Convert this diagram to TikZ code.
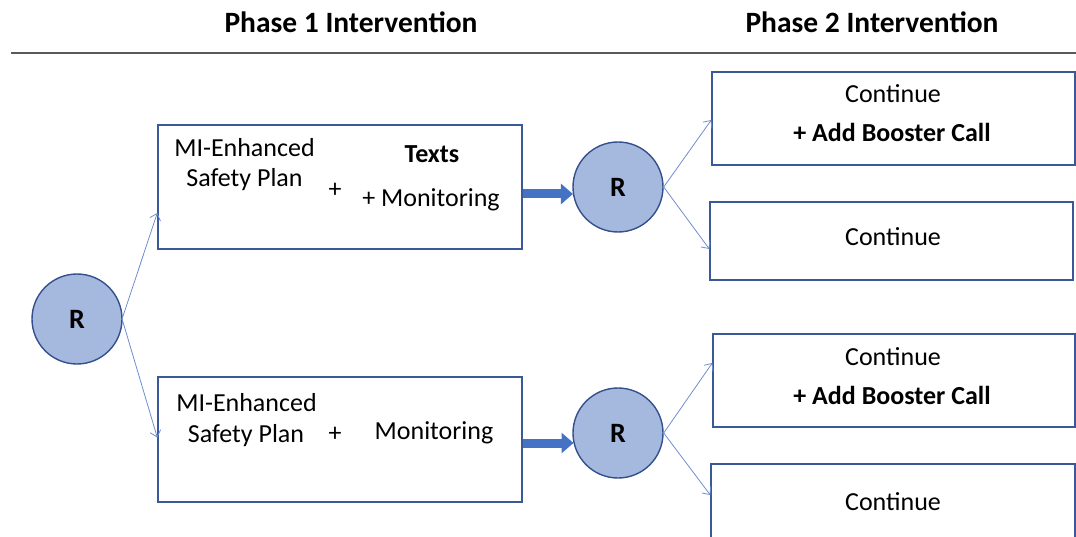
\documentclass[tikz,border=0pt]{standalone}
\usepackage{fontspec}
\setmainfont{Carlito}
\usetikzlibrary{arrows.meta}
\definecolor{boxline}{RGB}{59,89,152}
\definecolor{circfill}{RGB}{165,184,222}
\definecolor{circline}{RGB}{52,80,140}
\definecolor{thinarrow}{RGB}{110,142,207}
\definecolor{thickarrow}{RGB}{68,114,196}
\definecolor{rule}{RGB}{90,90,90}
\newcommand{\rfont}{\fontsize{28}{32}\selectfont\bfseries}
\tikzset{
  rnode/.style={circle, draw=circline, fill=circfill, line width=1.4pt, minimum size=90pt, inner sep=0pt},
  boxnode/.style={rectangle, draw=boxline, line width=1.4pt, inner sep=0pt},
  txt/.style={anchor=base, inner sep=0pt, font=\fontsize{26}{31}\selectfont},
  btxt/.style={anchor=base, inner sep=0pt, font=\fontsize{26}{31}\selectfont\bfseries},
  head/.style={anchor=base, inner sep=0pt, font=\fontsize{29.5}{34}\selectfont\bfseries},
  thinarr/.style={draw=thinarrow, line width=0.8pt, -{Straight Barb[length=6pt,width=11pt]}},
  thickarr/.style={draw=thickarrow, line width=9pt, -{Triangle[length=12pt,width=20pt]}},
}
\begin{document}
\begin{tikzpicture}[x=1pt,y=-1pt]
\clip (0,0) rectangle (1076,537);
% headings
\node[head] (h1) at (351,33) {Phase 1 Intervention};
\node[head] (h2) at (872,33) {Phase 2 Intervention};
\coordinate (rl) at (11,53);
\coordinate (rr) at (1076,53);
\draw[rule, line width=1.3pt] (rl) -- (rr);
% circles
\node[rnode] (R0) at (77,319) {\rfont R};
\node[rnode] (R1) at (618,187) {\rfont R};
\node[rnode] (R2) at (618,433) {\rfont R};
% phase 1 boxes
\node[boxnode, minimum width=364pt, minimum height=124pt] (top1) at (340,187) {};
\node[boxnode, minimum width=364pt, minimum height=125pt] (bot1) at (340,439.5) {};
% phase 2 boxes
\node[boxnode, minimum width=363pt, minimum height=93pt] (A) at (893.5,118.5) {};
\node[boxnode, minimum width=363pt, minimum height=78pt] (B) at (891.5,241) {};
\node[boxnode, minimum width=362pt, minimum height=93pt] (C) at (894,380.5) {};
\node[boxnode, minimum width=364pt, minimum height=100pt] (D) at (893,514) {};
% top box text
\node[txt] (t1a) at (244.5,157) {MI-Enhanced};
\node[txt] (t1b) at (244.5,187) {Safety Plan};
\node[inner sep=0pt, font=\fontsize{26}{31}\selectfont] (t1p) at (335,190) {+};
\node[btxt] (t1c) at (432,163) {Texts};
\node[txt] (t1d) at (431,207) {+ Monitoring};
% bottom box text
\node[txt] (b1a) at (246.5,411) {MI-Enhanced};
\node[txt] (b1b) at (246,442) {Safety Plan};
\node[inner sep=0pt, font=\fontsize{26}{31}\selectfont] (b1p) at (335,434) {+};
\node[txt] (b1c) at (434,439) {Monitoring};
% right box text
\node[txt] (Aa) at (893,103) {Continue};
\node[btxt] (Ab) at (892,142) {+ Add Booster Call};
\node[txt] (Ba) at (893,246) {Continue};
\node[txt] (Ca) at (893,365) {Continue};
\node[btxt] (Cb) at (892,404) {+ Add Booster Call};
\node[txt] (Da) at (893,510) {Continue};
% arrows
\draw[thinarr] ([yshift=2pt]R0.east) -- ([yshift=-26pt]top1.west);
\draw[thinarr] ([yshift=-2pt]R0.east) -- ([yshift=2pt]bot1.west);
\draw[thickarr] ([yshift=-7pt]top1.east) -- ([yshift=-7pt,xshift=0.6pt]R1.west);
\draw[thickarr] ([yshift=-3.5pt]bot1.east) -- ([yshift=-10pt,xshift=1.2pt]R2.west);
\draw[thinarr] (R1.east) -- ([yshift=-1.5pt]A.west);
\draw[thinarr] (R1.east) -- ([yshift=-8pt]B.west);
\draw[thinarr] (R2.east) -- ([yshift=17.5pt]C.west);
\draw[thinarr] (R2.east) -- ([yshift=19pt]D.west);
\end{tikzpicture}
\end{document}
